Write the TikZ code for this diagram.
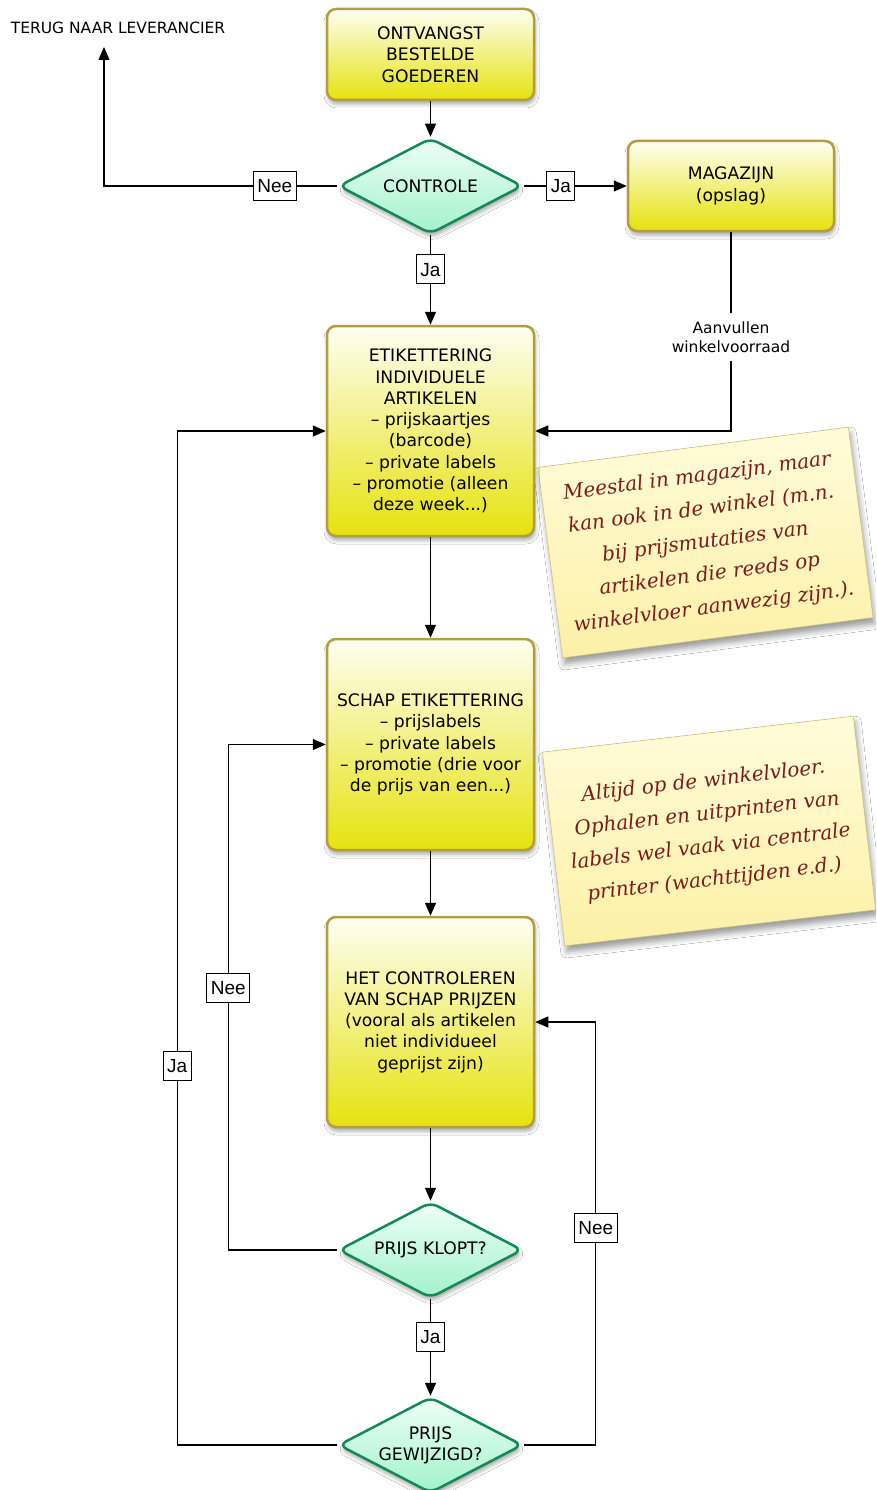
\documentclass[tikz,border=0pt]{standalone}
\usepackage{fontspec}
\setmainfont{DejaVu Sans}
\newfontfamily\lblfont{Liberation Sans}
\newfontfamily\handfont{DejaVu Serif}
\usetikzlibrary{arrows.meta,shapes.geometric,shadows.blur}

\definecolor{boxedge}{HTML}{B39E3E}
\definecolor{boxtop}{HTML}{FEFEF2}
\definecolor{boxbot}{HTML}{E6E20E}
\definecolor{decedge}{HTML}{138A55}
\definecolor{dectop}{HTML}{EEFFF7}
\definecolor{decbot}{HTML}{A2F2CB}
\definecolor{notetop}{HTML}{FFFCDA}
\definecolor{notebot}{HTML}{FCF0A6}
\definecolor{noteedge}{HTML}{CFC07E}
\definecolor{ink}{HTML}{7A1C1C}

\begin{document}
\begin{tikzpicture}[x=1pt,y=-1pt,
  softshadow/.style={blur shadow={shadow xshift=1pt, shadow yshift=-4pt, shadow blur radius=4pt, shadow opacity=35}},
  stepbox/.style={draw=boxedge, line width=2.5pt, rounded corners=9pt,
    top color=boxtop, bottom color=boxbot, minimum width=207pt,
    align=center, inner sep=0pt, font=\fontsize{17.2}{21.3}\selectfont, softshadow},
  decision/.style={diamond, draw=decedge, line width=2.5pt, rounded corners=8pt,
    top color=dectop, bottom color=decbot, minimum width=184pt, minimum height=96pt,
    inner sep=0pt, aspect=1.9, softshadow},
  dectext/.style={align=center, font=\fontsize{17.2}{21.3}\selectfont},
  note/.style={draw=noteedge, line width=0.6pt, top color=notetop, bottom color=notebot,
    minimum width=313pt, inner sep=0pt, align=center, text=ink,
    font=\handfont\itshape\fontsize{20}{33}\selectfont,
    blur shadow={shadow xshift=2pt, shadow yshift=-6pt, shadow blur radius=6pt, shadow opacity=40}},
  arr/.style={line width=1.3pt, -{Triangle[length=13pt,width=11pt]}},
  lbl/.style={draw, fill=white, line width=0.8pt, font=\lblfont\fontsize{19}{22}\selectfont,
    inner xsep=4pt, inner ysep=0pt, text height=13.6pt, text depth=0pt, minimum height=29pt},
  wlabel/.style={fill=white, align=center, font=\fontsize{15.5}{19.5}\selectfont, inner xsep=2pt, inner ysep=8pt}
]
\useasboundingbox (0,0) rectangle (876,1490);
\clip (0,0) rectangle (876,1490);
\fill[white] (0,0) rectangle (876,1490);

% sticky notes
\node[note, minimum height=192pt, rotate=7.4] (note1) at (705.5,542.5)
  {Meestal in magazijn, maar\\kan ook in de winkel (m.n.\\bij prijsmutaties van\\artikelen die reeds op\\winkelvloer aanwezig zijn.).};
\node[note, minimum height=195pt, rotate=6.6] (note2) at (709,831)
  {Altijd op de winkelvloer.\\Ophalen en uitprinten van\\labels wel vaak via centrale\\printer (wachttijden e.d.)};

% process steps
\node[stepbox, minimum height=91pt] (b1) at (430.5,54.5) {ONTVANGST\\BESTELDE\\GOEDEREN};
\node[decision, label={[dectext]center:CONTROLE}] (ctrl) at (430.5,186) {};
\node[stepbox, minimum width=206pt, minimum height=90pt] (mag) at (731,186) {MAGAZIJN\\(opslag)};
\node[stepbox, minimum height=210pt] (etik) at (430.5,431)
  {ETIKETTERING\\INDIVIDUELE\\ARTIKELEN\\– prijskaartjes\\(barcode)\\– private labels\\– promotie (alleen\\deze week...)};
\node[stepbox, minimum height=211pt] (schap) at (430.5,744.5)
  {SCHAP ETIKETTERING\\– prijslabels\\– private labels\\– promotie (drie voor\\de prijs van een...)};
\node[stepbox, minimum height=210pt] (het) at (430.5,1022)
  {HET CONTROLEREN\\VAN SCHAP PRIJZEN\\(vooral als artikelen\\niet individueel\\geprijst zijn)};
\node[decision, label={[dectext]center:PRIJS KLOPT?}] (klopt) at (430.5,1250) {};
\node[decision, label={[dectext]center:PRIJS\\GEWIJZIGD?}] (gew) at (430.5,1445) {};

\node[font=\fontsize{15.5}{19}\selectfont] (terug) at (118,28) {TERUG NAAR LEVERANCIER};
\coordinate (terugpt) at (104,47);

% connectors
\draw[arr] (b1) -- (ctrl);
\draw[arr] (ctrl.west) -| (terugpt) node[lbl, pos=0.134] {Nee};
\draw[arr] (ctrl.east) -- (mag.west) node[lbl, pos=0.36] {Ja};
\draw[arr] (ctrl.south) -- (etik.north) node[lbl, pos=0.38] {Ja};
\draw[arr] (mag.south) |- (etik.east) node[wlabel, pos=0.264] {Aanvullen\\winkelvoorraad};
\draw[arr] (etik) -- (schap);
\draw[arr] (schap) -- (het);
\draw[arr] (het) -- (klopt);
\draw[arr] (klopt) -- (gew) node[lbl, pos=0.39] {Ja};
\draw[arr] (klopt.west) -- ++(-109,0) |- (schap.west) node[lbl, pos=0.259] {Nee};
\draw[arr] (gew.west) -- ++(-160,0) |- (etik.west) node[lbl, pos=0.187] {Ja};
\draw[arr] (gew.east) -- ++(72,0) |- (het.east) node[lbl, pos=0.257] {Nee};
\end{tikzpicture}
\end{document}
